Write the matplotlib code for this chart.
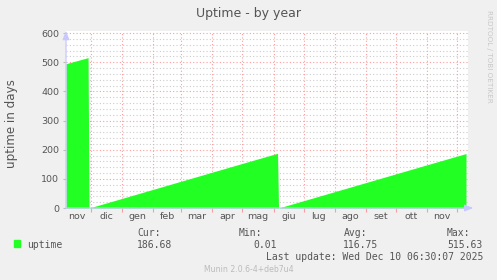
import matplotlib
matplotlib.use("Agg")
import matplotlib.pyplot as plt
import matplotlib.dates as mdates
import numpy as np
from datetime import datetime

# uptime in days
dates = [
    "2024-11-06", "2024-11-28", "2024-11-29", "2024-12-01", "2025-01-01",
    "2025-02-01", "2025-03-01", "2025-04-01", "2025-05-01", "2025-06-05",
    "2025-06-06", "2025-07-01", "2025-08-01", "2025-09-01", "2025-10-01",
    "2025-11-01", "2025-12-10",
]
uptime = [
    494.6, 515.6, 0.0, 2.0, 33.0,
    64.0, 92.0, 123.0, 153.0, 187.5,
    0.01, 25.0, 56.0, 87.0, 117.0,
    148.0, 186.68,
]
month_starts = [
    "2024-12-01", "2025-01-01", "2025-02-01", "2025-03-01", "2025-04-01",
    "2025-05-01", "2025-06-01", "2025-07-01", "2025-08-01", "2025-09-01",
    "2025-10-01", "2025-11-01", "2025-12-01",
]
month_mids = [
    "2024-11-17", "2024-12-16", "2025-01-16", "2025-02-15", "2025-03-16",
    "2025-04-16", "2025-05-16", "2025-06-16", "2025-07-16", "2025-08-16",
    "2025-09-16", "2025-10-16", "2025-11-16",
]
month_labels = ["nov", "dic", "gen", "feb", "mar", "apr", "mag",
                "giu", "lug", "ago", "set", "ott", "nov"]
stats = {"Cur:": "186.68", "Min:": "0.01", "Avg:": "116.75", "Max:": "515.63"}

W, H = 497, 280
BG = "#f0f0f0"
TXT = "#555555"
GREEN = "#22ff22"
AXIS = "#c8c8ff"

to_dt = lambda s: datetime.strptime(s, "%Y-%m-%d")
x = [to_dt(d) for d in dates]

fig = plt.figure(figsize=(W / 100, H / 100), dpi=100, facecolor=BG)


def px(xp, yp):
    return xp / W, 1 - yp / H


# plot area: x 66..468, y 31..208 (600 at y=33)
ax = fig.add_axes([66 / W, 1 - 208 / H, (468 - 66) / W, (208 - 31) / H])
ax.set_facecolor("white")
ax.set_xlim(to_dt("2024-11-06"), to_dt("2025-12-12"))
ax.set_ylim(0, 600 * 177 / 175)

ax.fill_between(x, uptime, 0, color=GREEN, linewidth=0, zorder=3)

# grid
for v in range(20, 601, 20):
    if v % 100:
        ax.axhline(v, color="#cccccc", lw=0.8, ls=(0, (1, 2)), zorder=1)
    else:
        ax.axhline(v, color="#ff9c9c", lw=0.8, ls=(0, (1, 2)), zorder=2)
for m in month_starts:
    ax.plot([to_dt(m)] * 2, [0, 600], color="#ff9c9c", lw=0.8,
            ls=(0, (1, 2)), zorder=2)

for s in ax.spines.values():
    s.set_visible(False)

ax.set_yticks(range(0, 601, 100))
ax.tick_params(axis="y", length=2, color="#bbbbbb", labelsize=6.8,
               labelcolor=TXT, pad=3)
ax.set_xticks([to_dt(m) for m in month_starts])
ax.set_xticklabels([])
ax.tick_params(axis="x", which="major", length=3, color="#ff9c9c")
ax.set_xticks([to_dt(m) for m in month_mids], minor=True)
ax.set_xticklabels(month_labels, minor=True)
ax.tick_params(axis="x", which="minor", length=0, labelsize=6.8,
               labelcolor=TXT, pad=3)

# axis lines with arrows
ax.annotate("", xy=(1.013, 0), xytext=(0, 0), xycoords="axes fraction",
            arrowprops=dict(arrowstyle="-|>,head_length=0.5,head_width=0.2",
                            color=AXIS, lw=0.9, shrinkA=0, shrinkB=0),
            annotation_clip=False, zorder=5)
ax.annotate("", xy=(0, 1.0), xytext=(0, 0), xycoords="axes fraction",
            arrowprops=dict(arrowstyle="-|>,head_length=0.5,head_width=0.2",
                            color=AXIS, lw=0.9, shrinkA=0, shrinkB=0),
            annotation_clip=False, zorder=5)

# texts
fig.text(*px(249, 13), "Uptime - by year", ha="center", va="center",
         fontsize=9, color=TXT)
fig.text(*px(12, 124), "uptime in days", ha="center", va="center",
         rotation=90, fontsize=8.6, color=TXT)
fig.text(*px(489, 56), "RRDTOOL / TOBI OETIKER", ha="center", va="center",
         rotation=-90, fontsize=5.2, color="#c8c8c8")

mono = dict(family="DejaVu Sans Mono", fontsize=7, color=TXT, va="center")
fig.patches.append(plt.Rectangle(px(14, 247), 6 / W, 7 / H, color=GREEN,
                                 transform=fig.transFigure, figure=fig))
fig.text(*px(26.7, 245.5), "uptime", ha="left", **mono)
cols = [(137, 137), (239, 253), (344, 343), (447, 447)]
for (label, value), (lx, vx) in zip(stats.items(), cols):
    fig.text(*px(lx, 233.5), label, ha="left", **mono)
    fig.text(*px(vx, 245.5), value, ha="left", **mono)
fig.text(*px(483.5, 257.5), "Last update: Wed Dec 10 06:30:07 2025",
         ha="right", **mono)
fig.text(*px(249, 269), "Munin 2.0.6-4+deb7u4", ha="center", va="center",
         fontsize=5.6, color="#bbbbbb")

fig.savefig("out.png", dpi=100, facecolor=BG)
